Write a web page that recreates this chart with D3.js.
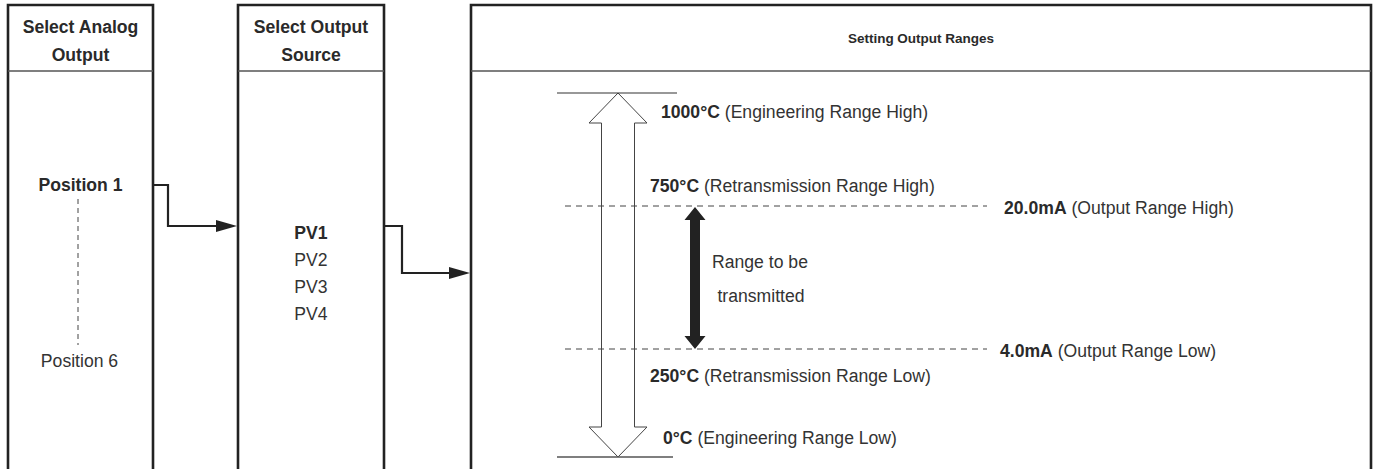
<!DOCTYPE html>
<html>
<head>
<meta charset="utf-8">
<script src="https://cdn.jsdelivr.net/npm/d3@7/dist/d3.min.js"></script>
<style>
  html, body { margin: 0; padding: 0; background: #fff; }
  svg { display: block; }
  text { font-family: "Liberation Sans", Arial, Helvetica, sans-serif; fill: #333; }
</style>
</head>
<body>
<svg id="chart" width="1377" height="469"></svg>
<script>
// ---- data ----
const panels = ["analog", "source", "ranges"];
const panelTitles = [["Select Analog", "Output"], ["Select Output", "Source"], ["Setting Output Ranges"]];
const analogOutputs = ["Position 1", "Position 6"];
const outputSources = ["PV1", "PV2", "PV3", "PV4"];
const levels = ["engHigh", "retHigh", "retLow", "engLow"];
const levelValues = ["1000°C", "750°C", "250°C", "0°C"];
const levelNames = ["(Engineering Range High)", "(Retransmission Range High)", "(Retransmission Range Low)", "(Engineering Range Low)"];
const outputLevels = ["retHigh", "retLow"];
const outputValues = ["20.0mA", "4.0mA"];
const outputNames = ["(Output Range High)", "(Output Range Low)"];
const rangeCaption = ["Range to be", "transmitted"];

(function () {
const svg = d3.select("#chart");
const W = 1377, H = 469;
const FS = 17.6;
const panelX = d3.scaleOrdinal().domain(panels).range([[8, 153], [238, 384], [471, 1371]]);
const yLevel = d3.scaleOrdinal().domain(levels).range([93, 206, 349, 457]);
const ySource = d3.scalePoint().domain(outputSources).range([239, 320]);
const yAnalog = d3.scaleOrdinal().domain(analogOutputs).range([191, 367]);

const boxTop = 5, headerY = 71;
const dark = "#222";

// ---- panels ----
panels.forEach((p, i) => {
  const [x0, x1] = panelX(p);
  svg.append("path")
    .attr("d", `M${x0},${H} V${boxTop} H${x1} V${H}`)
    .attr("fill", "none").attr("stroke", dark).attr("stroke-width", 2.6);
  svg.append("line")
    .attr("x1", x0).attr("x2", x1).attr("y1", headerY).attr("y2", headerY)
    .attr("stroke", "#555").attr("stroke-width", 1.4);
  const lines = panelTitles[i];
  const cx = (x0 + x1) / 2;
  if (lines.length === 2) {
    lines.forEach((t, j) => {
      svg.append("text").attr("x", cx).attr("y", [33, 61][j])
        .attr("text-anchor", "middle").attr("font-size", FS).attr("font-weight", 600)
        .style("fill", "#2a2a2a").text(t);
    });
  } else {
    svg.append("text").attr("x", 921).attr("y", 43)
      .attr("text-anchor", "middle").attr("font-size", 13.5).attr("font-weight", 600)
      .style("fill", "#2a2a2a").text(lines[0]);
  }
});

// ---- panel 1 ----
const p1 = panelX("analog");
const p1cx = (p1[0] + p1[1]) / 2;
svg.append("text").attr("x", p1cx).attr("y", yAnalog(analogOutputs[0]))
  .attr("text-anchor", "middle").attr("font-size", FS).attr("font-weight", 600)
  .style("fill", "#2a2a2a").text(analogOutputs[0]);
svg.append("text").attr("x", p1cx - 1).attr("y", yAnalog(analogOutputs[1]))
  .attr("text-anchor", "middle").attr("font-size", FS).text(analogOutputs[1]);
svg.append("line").attr("x1", 78).attr("x2", 78)
  .attr("y1", yAnalog(analogOutputs[0]) + 8).attr("y2", yAnalog(analogOutputs[1]) - 22)
  .attr("stroke", "#444").attr("stroke-width", 1).attr("stroke-dasharray", "5,4");

// ---- panel 2 ----
const p2 = panelX("source");
const p2cx = (p2[0] + p2[1]) / 2;
outputSources.forEach((s, i) => {
  svg.append("text").attr("x", p2cx).attr("y", ySource(s))
    .attr("text-anchor", "middle").attr("font-size", FS)
    .attr("font-weight", i === 0 ? 600 : 400)
    .style("fill", i === 0 ? "#2a2a2a" : "#333").text(s);
});

// ---- connectors ----
function connector(xStart, yStart, xBend, yEnd, xEnd) {
  svg.append("path")
    .attr("d", `M${xStart},${yStart} H${xBend} V${yEnd} H${xEnd - 18}`)
    .attr("fill", "none").attr("stroke", dark).attr("stroke-width", 2.2);
  svg.append("path")
    .attr("d", `M${xEnd - 21},${yEnd - 6} L${xEnd},${yEnd} L${xEnd - 21},${yEnd + 6} Z`)
    .attr("fill", dark);
}
connector(p1[1], 185, 168, 226, p2[0] - 1);
connector(p2[1], 226, 402, 273, panelX("ranges")[0] - 1);

// ---- panel 3 ----
const axX = 618;
const yTop = yLevel("engHigh"), yBot = yLevel("engLow");
const headH = 30, headHW = 29, shaftHW = 16.5;
const hollow = [
  [axX, yTop], [axX + headHW, yTop + headH], [axX + shaftHW, yTop + headH],
  [axX + shaftHW, yBot - headH], [axX + headHW, yBot - headH], [axX, yBot],
  [axX - headHW, yBot - headH], [axX - shaftHW, yBot - headH], [axX - shaftHW, yTop + headH],
  [axX - headHW, yTop + headH]
];
svg.append("path").attr("d", d3.line()(hollow) + "Z")
  .attr("fill", "#fff").attr("stroke", "#444").attr("stroke-width", 1);
svg.append("line").attr("x1", 557).attr("x2", 677).attr("y1", yTop).attr("y2", yTop)
  .attr("stroke", "#333").attr("stroke-width", 1.2);
svg.append("line").attr("x1", 557).attr("x2", 673).attr("y1", yBot).attr("y2", yBot)
  .attr("stroke", "#555").attr("stroke-width", 1.4);

outputLevels.forEach(l => {
  svg.append("line").attr("x1", 565).attr("x2", 987)
    .attr("y1", yLevel(l)).attr("y2", yLevel(l))
    .attr("stroke", "#444").attr("stroke-width", 1).attr("stroke-dasharray", "6,5");
});

const bx = 695, bTop = yLevel("retHigh") + 1, bBot = yLevel("retLow");
const bHead = 13, bHW = 10.5, bSW = 5;
const solid = [
  [bx, bTop], [bx + bHW, bTop + bHead], [bx + bSW, bTop + bHead],
  [bx + bSW, bBot - bHead], [bx + bHW, bBot - bHead], [bx, bBot],
  [bx - bHW, bBot - bHead], [bx - bSW, bBot - bHead], [bx - bSW, bTop + bHead],
  [bx - bHW, bTop + bHead]
];
svg.append("path").attr("d", d3.line()(solid) + "Z").attr("fill", "#222");

svg.append("text").attr("x", 760).attr("y", 268).attr("text-anchor", "middle")
  .attr("font-size", FS).text(rangeCaption[0]);
svg.append("text").attr("x", 761).attr("y", 302).attr("text-anchor", "middle")
  .attr("font-size", FS).text(rangeCaption[1]);

const labelPos = { engHigh: [661, 118], retHigh: [650, 192], retLow: [650, 382], engLow: [663, 444] };
levels.forEach((l, i) => {
  const t = svg.append("text").attr("x", labelPos[l][0]).attr("y", labelPos[l][1]).attr("font-size", FS);
  t.append("tspan").attr("font-weight", 600).style("fill", "#2a2a2a").text(levelValues[i]);
  t.append("tspan").text(" " + levelNames[i]);
});
const outPos = { retHigh: [1004, 214], retLow: [1000, 357] };
outputLevels.forEach((l, i) => {
  const t = svg.append("text").attr("x", outPos[l][0]).attr("y", outPos[l][1]).attr("font-size", FS);
  t.append("tspan").attr("font-weight", 600).style("fill", "#2a2a2a").text(outputValues[i]);
  t.append("tspan").text(" " + outputNames[i]);
});
})();
</script>
</body>
</html>
